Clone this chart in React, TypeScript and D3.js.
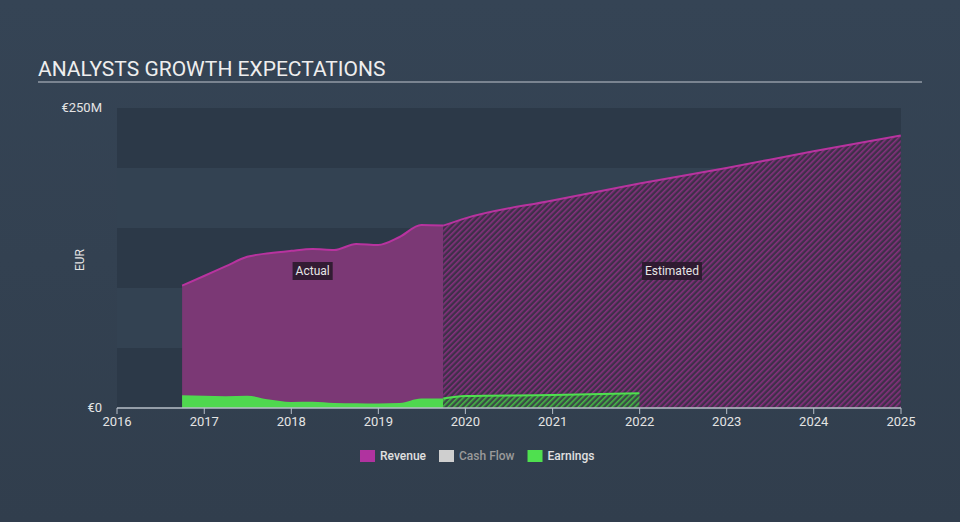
import React, { useEffect, useRef } from 'react';
import * as d3 from 'd3';

const revenueActualDates = ['2016-09-30', '2016-12-31', '2017-03-31', '2017-06-30', '2017-09-30', '2017-12-31', '2018-03-31', '2018-06-30', '2018-09-30', '2018-12-31', '2019-03-31', '2019-06-30', '2019-09-30'];
const revenueActual = [102, 110, 118, 126, 129, 131, 132.5, 131.7, 136.7, 135.8, 142.5, 152.5, 152];

const revenueEstDates = ['2019-09-30', '2019-12-31', '2020-12-31', '2021-12-31', '2022-12-31', '2023-12-31', '2024-12-31'];
const revenueEst = [152, 158, 173, 187, 200, 214, 227];

const earningsActualDates = revenueActualDates;
const earningsActual = [10.6, 10.2, 9.8, 10.2, 7, 5, 5.2, 4.2, 4, 3.8, 4.2, 8, 8];

const earningsEstDates = ['2019-09-30', '2019-12-31', '2020-12-31', '2021-12-31'];
const earningsEst = [8, 10, 10.8, 12.3];

const xTicks = [2016, 2017, 2018, 2019, 2020, 2021, 2022, 2023, 2024, 2025];
const yTicks = [0, 250];
const yTickLabels = ['€0', '€250M'];

const legendItems = [
    { label: 'Revenue', color: '#b0339f', text: '#e0e0e0' },
    { label: 'Cash Flow', color: '#cfcfcf', text: '#9a9a9a' },
    { label: 'Earnings', color: '#4fe04f', text: '#e0e0e0' },
];

const toPoints = (dates: string[], values: number[]) =>
    dates.map((d, i) => ({ date: new Date(d), value: values[i] }));

function App() {
    const svgRef = useRef<SVGSVGElement>(null);

    useEffect(() => {
        const width = 960;
        const height = 522;
        const margin = { top: 108, right: 58, bottom: 114, left: 117 };

        const svg = d3.select(svgRef.current);
        svg.selectAll('*').remove();

        const defs = svg.append('defs');
        const bg = defs.append('linearGradient').attr('id', 'bg').attr('x1', 0).attr('y1', 0).attr('x2', 0).attr('y2', 1);
        bg.append('stop').attr('offset', '0%').attr('stop-color', '#354455');
        bg.append('stop').attr('offset', '100%').attr('stop-color', '#313e4d');

        const hatch = (id: string, base: string, line: string) => {
            const p = defs.append('pattern')
                .attr('id', id)
                .attr('patternUnits', 'userSpaceOnUse')
                .attr('width', 4)
                .attr('height', 4)
                .attr('patternTransform', 'rotate(45)');
            p.append('rect').attr('width', 4).attr('height', 4).attr('fill', base);
            p.append('rect').attr('width', 1.6).attr('height', 4).attr('fill', line);
        };
        hatch('revHatch', '#3e3049', '#86307e');
        hatch('earnHatch', '#3a4a45', '#46b846');

        svg.append('rect').attr('width', width).attr('height', height).attr('fill', 'url(#bg)');

        const x = d3.scaleTime()
            .domain([new Date('2016-01-01'), new Date('2025-01-01')])
            .range([margin.left, width - margin.right - 1]);

        const y = d3.scaleLinear()
            .domain([0, 250])
            .range([height - margin.bottom, margin.top]);

        // alternating bands
        const bandSteps = d3.range(0, 250, 50);
        svg.append('g')
            .selectAll('rect')
            .data(bandSteps)
            .join('rect')
            .attr('x', x.range()[0])
            .attr('width', x.range()[1] - x.range()[0])
            .attr('y', (d) => y(d + 50))
            .attr('height', (d) => y(d) - y(d + 50))
            .attr('fill', (d, i) => (i % 2 === 0 ? '#2c3948' : '#334252'));

        // title
        svg.append('text')
            .attr('x', 38)
            .attr('y', 76)
            .attr('fill', '#eeeeee')
            .style('font-family', 'Roboto, sans-serif')
            .style('font-size', '21px')
            .text('ANALYSTS GROWTH EXPECTATIONS');
        svg.append('line')
            .attr('x1', 38).attr('x2', 922)
            .attr('y1', 82).attr('y2', 82)
            .attr('stroke', '#c0c6ce')
            .attr('stroke-width', 1.2);

        const area = d3.area<{ date: Date; value: number }>()
            .x((d) => x(d.date))
            .y0(y(0))
            .y1((d) => y(d.value))
            .curve(d3.curveMonotoneX);
        const line = d3.line<{ date: Date; value: number }>()
            .x((d) => x(d.date))
            .y((d) => y(d.value))
            .curve(d3.curveMonotoneX);

        const revA = toPoints(revenueActualDates, revenueActual);
        const revE = toPoints(revenueEstDates, revenueEst);
        const earnA = toPoints(earningsActualDates, earningsActual);
        const earnE = toPoints(earningsEstDates, earningsEst);

        // Revenue
        svg.append('path').datum(revA).attr('d', area).attr('fill', '#7b3875');
        svg.append('path').datum(revE).attr('d', area).attr('fill', 'url(#revHatch)');
        svg.append('path').datum(revA).attr('d', line).attr('fill', 'none').attr('stroke', '#b8339f').attr('stroke-width', 2);
        svg.append('path').datum(revE).attr('d', line).attr('fill', 'none').attr('stroke', '#b8339f').attr('stroke-width', 2);

        // Earnings
        svg.append('path').datum(earnA).attr('d', area).attr('fill', '#4fd84f');
        svg.append('path').datum(earnE).attr('d', area).attr('fill', 'url(#earnHatch)');
        svg.append('path').datum(earnE).attr('d', line).attr('fill', 'none').attr('stroke', '#4fe04f').attr('stroke-width', 2);

        // x axis
        const axisY = y(0);
        const axis = svg.append('g').attr('transform', `translate(0, ${axisY})`);
        axis.append('line')
            .attr('x1', x.range()[0]).attr('x2', x.range()[1])
            .attr('stroke', '#b7bfc9').attr('stroke-width', 1.5);
        const ticks = axis.selectAll('g.tick')
            .data(xTicks)
            .join('g')
            .attr('transform', (d) => `translate(${x(new Date(`${d}-01-01`))}, 0)`);
        ticks.append('line').attr('y1', 0).attr('y2', 6).attr('stroke', '#b7bfc9').attr('stroke-width', 1);
        ticks.append('text')
            .attr('y', 18)
            .attr('text-anchor', 'middle')
            .attr('fill', '#e4e4e4')
            .style('font-family', 'Roboto, sans-serif')
            .style('font-size', '13px')
            .text((d) => d);

        // y labels
        svg.append('g')
            .selectAll('text')
            .data(yTicks)
            .join('text')
            .attr('x', 102)
            .attr('y', (d) => y(d) + 4)
            .attr('text-anchor', 'end')
            .attr('fill', '#e4e4e4')
            .style('font-family', 'Roboto, sans-serif')
            .style('font-size', '13px')
            .text((d, i) => yTickLabels[i]);

        svg.append('text')
            .attr('transform', `translate(84, ${y(125) + 2}) rotate(-90)`)
            .attr('text-anchor', 'middle')
            .attr('fill', '#e4e4e4')
            .style('font-family', 'Roboto, sans-serif')
            .style('font-size', '12px')
            .text('EUR');

        // Actual / Estimated labels
        const labelAt = (cx: number, text: string) => {
            const g = svg.append('g').attr('transform', `translate(${cx}, 271)`);
            const t = g.append('text')
                .attr('text-anchor', 'middle')
                .attr('dy', '0.35em')
                .attr('fill', '#e6e6e6')
                .style('font-family', 'Roboto, sans-serif')
                .style('font-size', '12px')
                .text(text);
            const w = (t.node() as SVGTextElement).getComputedTextLength() + 6;
            g.insert('rect', 'text')
                .attr('x', -w / 2).attr('y', -9)
                .attr('width', w).attr('height', 18)
                .attr('fill', '#2a1a2c')
                .attr('opacity', 0.9);
        };
        const split = revA[revA.length - 1].date;
        labelAt((x(revA[0].date) + x(split)) / 2, 'Actual');
        labelAt((x(split) + x(revE[revE.length - 1].date)) / 2, 'Estimated');

        // legend
        const legend = svg.append('g').attr('transform', 'translate(360, 456)');
        let lx = 0;
        legendItems.forEach((item) => {
            const g = legend.append('g').attr('transform', `translate(${lx}, 0)`);
            g.append('rect').attr('x', 0).attr('y', -6).attr('width', 15).attr('height', 12).attr('fill', item.color);
            const t = g.append('text')
                .attr('x', 20)
                .attr('dy', '0.35em')
                .attr('fill', item.text)
                .style('font-family', 'Roboto, sans-serif')
                .style('font-size', '12px')
                .style('font-weight', 500)
                .text(item.label);
            lx += 20 + (t.node() as SVGTextElement).getComputedTextLength() + 13;
        });
    }, []);

    return (
        <svg ref={svgRef} width={960} height={522} style={{ display: 'block', position: 'absolute', left: 0, top: 0 }} />
    );
}

export default App;
